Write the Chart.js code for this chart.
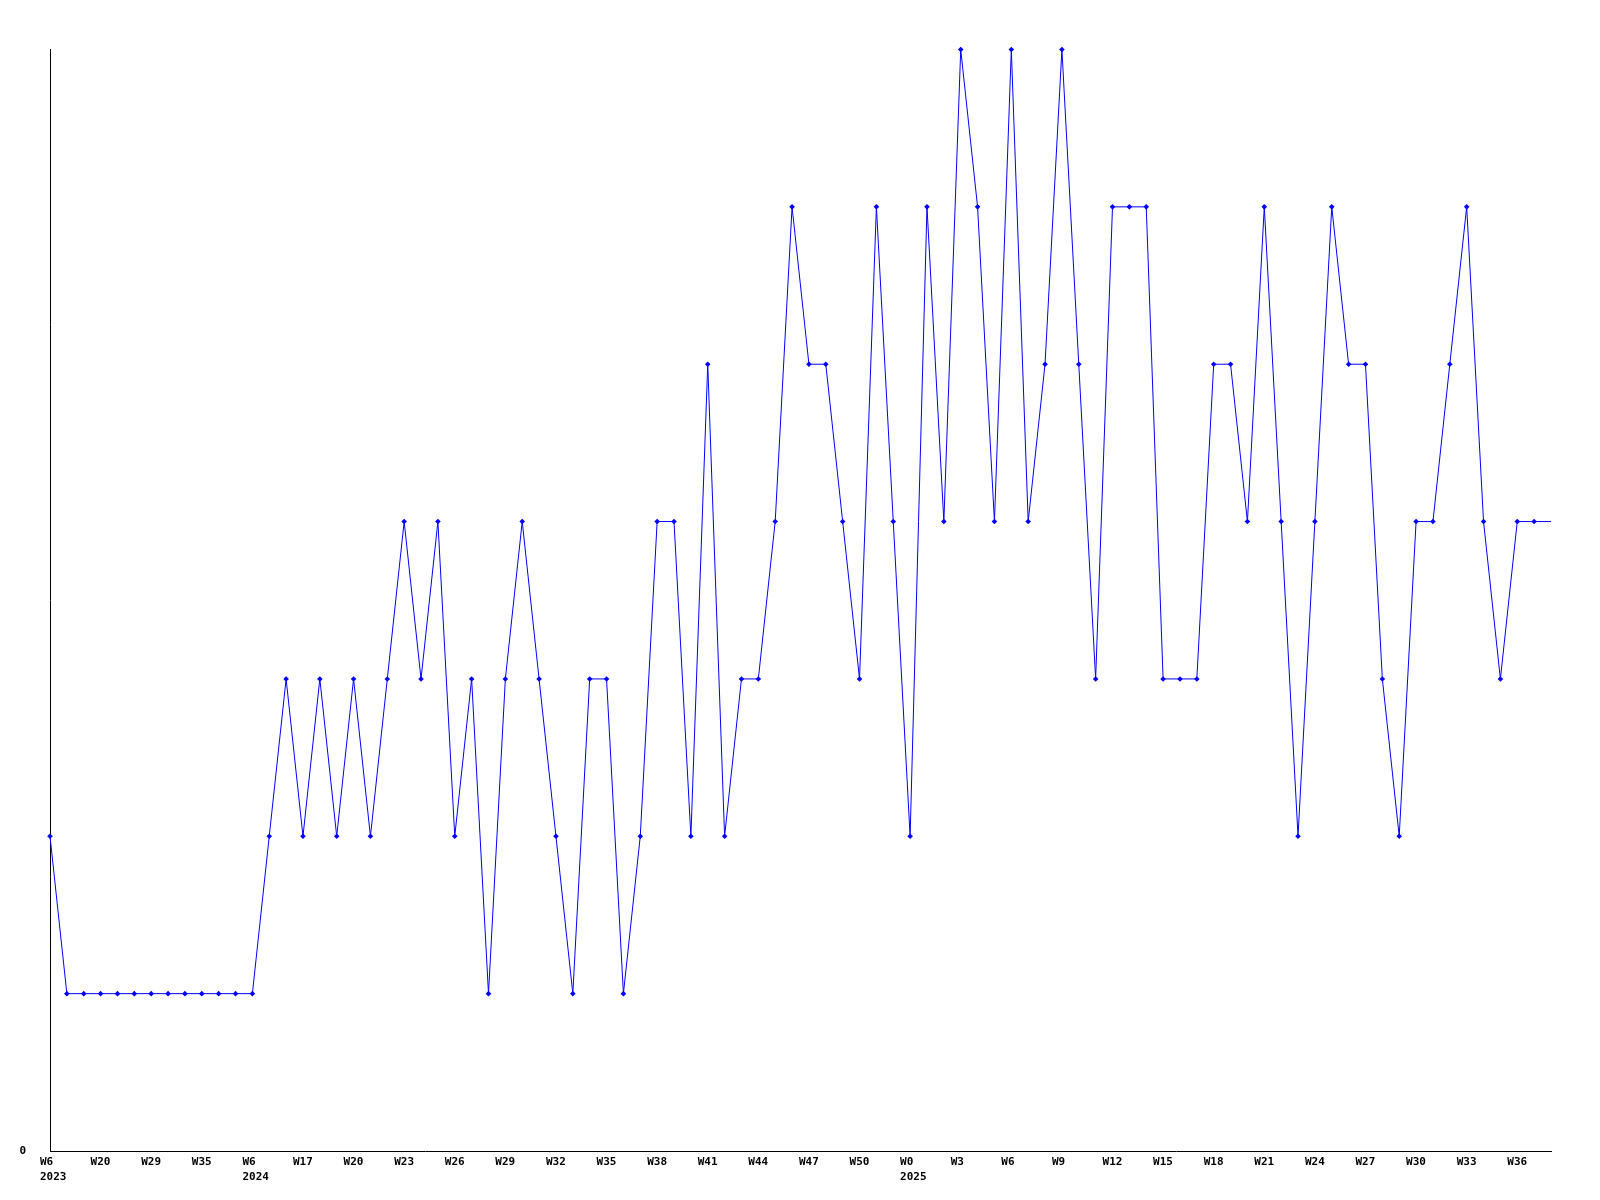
<!DOCTYPE html>
<html>
<head>
<meta charset="utf-8">
<script src="https://cdn.jsdelivr.net/npm/chart.js@4.4.1/dist/chart.umd.min.js"></script>
<style>
  html, body { margin: 0; padding: 0; background: #fff; }
  canvas { display: block; }
</style>
</head>
<body>
<canvas id="chart" width="1600" height="1200"></canvas>
<script>
//Valores por semana (90 puntos)
const values = [
  2, 1, 1, 1, 1, 1, 1, 1, 1, 1, 1, 1, 1,
  2, 3, 2, 3, 2, 3, 2, 3,
  4, 3, 4, 2, 3, 1, 3, 4, 3, 2,
  1, 3, 3, 1, 2, 4, 4, 2, 5, 2,
  3, 3, 4, 6, 5, 5, 4, 3, 6, 4,
  2, 6, 4, 7, 6, 4, 7, 4, 5, 7,
  5, 3, 6, 6, 6, 3, 3, 3, 5, 5,
  4, 6, 4, 2, 4, 6, 5, 5, 3, 2,
  4, 4, 5, 6, 4, 3, 4, 4, 4
];

//Etiquetas visibles (una cada 3 puntos)
const tickWeeks = ["W6", "W20", "W29", "W35", "W6", "W17", "W20", "W23", "W26", "W29",
  "W32", "W35", "W38", "W41", "W44", "W47", "W50", "W0", "W3", "W6",
  "W9", "W12", "W15", "W18", "W21", "W24", "W27", "W30", "W33", "W36"];
const tickYears = { 0: "2023", 4: "2024", 17: "2025" };

const yMin = 0;
const yMax = 7;

//Categorías
const labels = values.map((_, i) => {
  if (i % 3 !== 0 || !tickWeeks[i / 3]) return "";
  const k = i / 3;
  return tickYears[k] ? [tickWeeks[k], tickYears[k]] : tickWeeks[k];
});

const lastIdx = values.length - 1;
const font = { family: "'DejaVu Sans Mono', monospace", size: 11, weight: "bold", lineHeight: 1.4 };

new Chart(document.getElementById("chart"), {
  type: "line",
  data: {
    labels,
    datasets: [{
      data: values,
      borderColor: "#0000ff",
      backgroundColor: "#0000ff",
      borderWidth: 1,
      tension: 0,
      pointStyle: "rectRot",
      pointRadius: ctx => ctx.dataIndex === lastIdx ? 0 : 2.8,
      pointBorderWidth: 0,
      pointBackgroundColor: "#0000ff",
      clip: false
    }]
  },
  options: {
    responsive: false,
    animation: false,
    layout: { padding: { top: 49.5, right: 49, bottom: 0, left: 0 } },
    plugins: { legend: { display: false }, tooltip: { enabled: false } },
    scales: {
      x: {
        type: "category",
        offset: false,
        grid: { display: false, drawTicks: false },
        border: { display: true, color: "#000", width: 1 },
        afterFit: s => { s.height = 49; },
        ticks: {
          autoSkip: false,
          maxRotation: 0,
          minRotation: 0,
          align: "start",
          labelOffset: -10,
          padding: 3,
          color: "#000",
          font
        }
      },
      y: {
        min: yMin,
        max: yMax,
        grid: { display: false, drawTicks: false },
        border: { display: true, color: "#000", width: 1 },
        afterFit: s => { s.width = 50; },
        ticks: {
          stepSize: 1,
          padding: 24,
          color: "#000",
          font,
          callback: v => v === 0 ? "0" : null
        }
      }
    }
  }
});
</script>
</body>
</html>
